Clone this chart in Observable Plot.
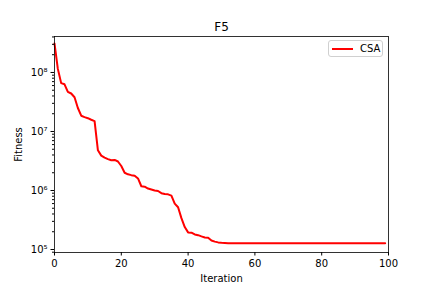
<!DOCTYPE html>
<html>
<head>
<meta charset="utf-8">
<script src="https://cdn.jsdelivr.net/npm/d3@7"></script>
<script src="https://cdn.jsdelivr.net/npm/@observablehq/plot@0.6"></script>
<style>
  html, body { margin: 0; padding: 0; background: #fff; }
  #wrap { position: relative; width: 432px; height: 288px; font-family: "DejaVu Sans", sans-serif; }
  #legend { position: absolute; left: 328px; top: 40px; width: 55px; height: 17px; box-sizing: border-box;
            border: 1px solid #d0d0d0; border-radius: 3px; background: rgba(255,255,255,0.8);
            font-size: 10px; color: #000; }
  #legend .sw { position: absolute; left: 3px; top: 7px; width: 21px; height: 2px; background: #ff0000; }
  #legend .lb { position: absolute; left: 31px; top: 1px; line-height: 14px; }
</style>
</head>
<body>
<div id="wrap"></div>
<script>
const title = "F5";
const seriesName = "CSA";
const xLabel = "Iteration";
const yLabel = "Fitness";
const xTicks = [0, 20, 40, 60, 80, 100];
const yTicks = [1e5, 1e6, 1e7, 1e8];
const fitness = [
  3.1e8, 1.15e8, 6.6e7, 6.3e7, 4.7e7, 4.4e7, 3.8e7, 2.5e7, 1.85e7, 1.75e7,
  1.68e7, 1.58e7, 1.5e7, 4.8e6, 3.9e6, 3.6e6, 3.4e6, 3.25e6, 3.3e6, 3.1e6,
  2.6e6, 2.0e6, 1.88e6, 1.82e6, 1.78e6, 1.6e6, 1.18e6, 1.16e6, 1.08e6, 1.04e6,
  1.0e6, 9.8e5, 9.0e5, 8.7e5, 8.6e5, 8.2e5, 6.0e5, 5.2e5, 3.4e5, 2.4e5,
  1.95e5, 1.93e5, 1.8e5, 1.75e5, 1.67e5, 1.6e5, 1.58e5, 1.42e5, 1.36e5, 1.32e5,
  1.3e5, 1.29e5, 1.28e5, 1.28e5, 1.28e5, 1.28e5, 1.28e5, 1.28e5, 1.28e5, 1.28e5,
  1.28e5, 1.28e5, 1.28e5, 1.28e5, 1.28e5, 1.28e5, 1.28e5, 1.28e5, 1.28e5, 1.28e5,
  1.28e5, 1.28e5, 1.28e5, 1.28e5, 1.28e5, 1.28e5, 1.28e5, 1.28e5, 1.28e5, 1.28e5,
  1.28e5, 1.28e5, 1.28e5, 1.28e5, 1.28e5, 1.28e5, 1.28e5, 1.28e5, 1.28e5, 1.28e5,
  1.28e5, 1.28e5, 1.28e5, 1.28e5, 1.28e5, 1.28e5, 1.28e5, 1.28e5, 1.28e5, 1.28e5
];

const data = fitness.map((v, i) => ({iter: i, value: v}));
const minorTicks = [];
for (let e = 4; e <= 8; e++) for (let m = 2; m <= 9; m++) {
  const v = m * Math.pow(10, e);
  if (v >= 0.89e5 && v <= 4.07e8) minorTicks.push(v);
}
const sup = {"0":"⁰","1":"¹","2":"²","3":"³","4":"⁴","5":"⁵","6":"⁶","7":"⁷","8":"⁸","9":"⁹"};
const fmtPow = d => "10" + String(Math.round(Math.log10(d))).split("").map(c => sup[c]).join("");

const chart = Plot.plot({
  width: 432,
  height: 288,
  marginLeft: 54,
  marginRight: 44,
  marginTop: 36,
  marginBottom: 36,
  style: {fontFamily: "DejaVu Sans, sans-serif", fontSize: "10px", color: "#000", background: "#fff"},
  x: {domain: [0, 100]},
  y: {type: "log", domain: [0.89e5, 4.07e8]},
  marks: [
    Plot.lineY(data, {x: "iter", y: "value", stroke: "#ff0000", strokeWidth: 2}),
    Plot.frame({stroke: "#000", strokeWidth: 0.8}),
    Plot.axisX(xTicks, {tickSize: 3.5, tickPadding: 3.5, label: xLabel, labelAnchor: "center", labelArrow: "none", labelOffset: 29}),
    Plot.axisY(yTicks, {tickSize: 3.5, tickPadding: 3.5, tickFormat: fmtPow, label: yLabel, labelAnchor: "center", labelArrow: "none", labelOffset: 40}),
    Plot.axisY(minorTicks, {tickSize: 2, tickFormat: () => "", label: null}),
    Plot.text([title], {frameAnchor: "top", lineAnchor: "middle", dy: -9, fontSize: 12})
  ]
});

const wrap = document.getElementById("wrap");
wrap.appendChild(chart);
const legend = document.createElement("div");
legend.id = "legend";
legend.innerHTML = '<div class="sw"></div><div class="lb"></div>';
legend.querySelector(".lb").textContent = seriesName;
wrap.appendChild(legend);
</script>
</body>
</html>
